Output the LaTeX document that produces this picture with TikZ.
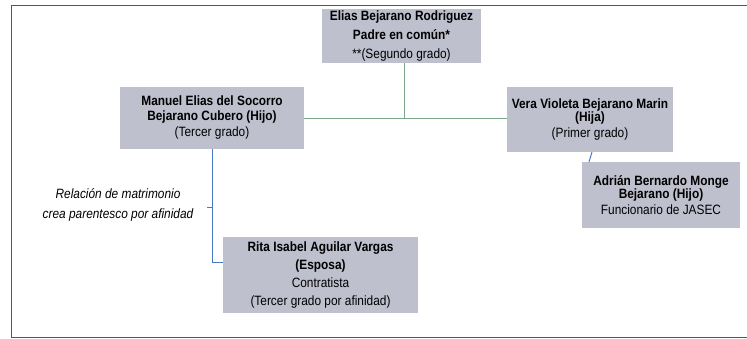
\documentclass[tikz,border=0pt]{standalone}
\usepackage{fontspec}
\setmainfont[FakeStretch=0.88]{Liberation Sans}
\usepackage{tikz}
\usetikzlibrary{calc}

\definecolor{cajagris}{RGB}{191,192,206}
\definecolor{lineaverde}{RGB}{125,165,140}
\definecolor{lineaazul}{RGB}{70,120,195}
\definecolor{marcogris}{RGB}{85,85,90}

\tikzset{
    caja/.style={rectangle, fill=cajagris, align=center, inner sep=0pt, font=\fontsize{13.5}{15}\selectfont},
    nota/.style={align=center, inner sep=0pt, font=\fontsize{13.5}{20}\selectfont\itshape},
    verde/.style={draw=lineaverde, line width=1pt},
    azul/.style={draw=lineaazul, line width=1pt},
    marco/.style={draw=marcogris, line width=0.9pt}
}

\begin{document}
\begin{tikzpicture}[x=1pt, y=-1pt]
        \useasboundingbox (0,0) rectangle (747,339);
        % Frame
        \draw[marco] (747,5) -- (11,5) -- (11,337) -- (747,337);

        % Nodes
        \node[caja, minimum width=159pt, minimum height=54pt, font=\fontsize{13.5}{19}\selectfont] (padre) at (401.5,36)
            {\textbf{Elias Bejarano Rodriguez}\\ \textbf{Padre en común*}\\ **(Segundo grado)};
        \node[caja, minimum width=184pt, minimum height=62pt, font=\fontsize{13.5}{15}\selectfont] (manuel) at (212,118)
            {\textbf{Manuel Elias del Socorro}\\ \textbf{Bejarano Cubero (Hijo)}\\[1pt] (Tercer grado)};
        \node[caja, minimum width=166pt, minimum height=65pt, font=\fontsize{13.5}{13.5}\selectfont] (vera) at (590,119.5)
            {\textbf{Vera Violeta Bejarano Marin}\\ \textbf{(Hija)}\\[2pt] (Primer grado)};
        \node[caja, minimum width=158pt, minimum height=66pt, font=\fontsize{13.5}{13.5}\selectfont] (adrian) at (661,195)
            {\textbf{Adrián Bernardo Monge}\\ \textbf{Bejarano (Hijo)}\\[2pt] Funcionario de JASEC};
        \node[caja, minimum width=195pt, minimum height=76pt, font=\fontsize{13.5}{18}\selectfont] (rita) at (320.5,275)
            {\textbf{Rita Isabel Aguilar Vargas}\\ \textbf{(Esposa)}\\ Contratista\\ (Tercer grado por afinidad)};
        \node[nota] (matrimonio) at (118,205)
            {Relación de matrimonio\\ crea parentesco por afinidad};

        \coordinate (union) at (404,119);
        \coordinate (marca) at (207,208);

        % Edges
        \draw[verde] (padre.south -| union) -- (union);
        \draw[verde] (manuel.east |- union) -- (vera.west |- union);
        \draw[azul] (manuel.south) |- ($(rita.north west)!0.34!(rita.south west)$);
        \draw[azul] (marca) -- (marca -| manuel.south);
        \draw[azul] ([xshift=2pt]vera.south) -- ([xshift=-1pt]vera.south |- adrian.north);

    \end{tikzpicture}
\end{document}
